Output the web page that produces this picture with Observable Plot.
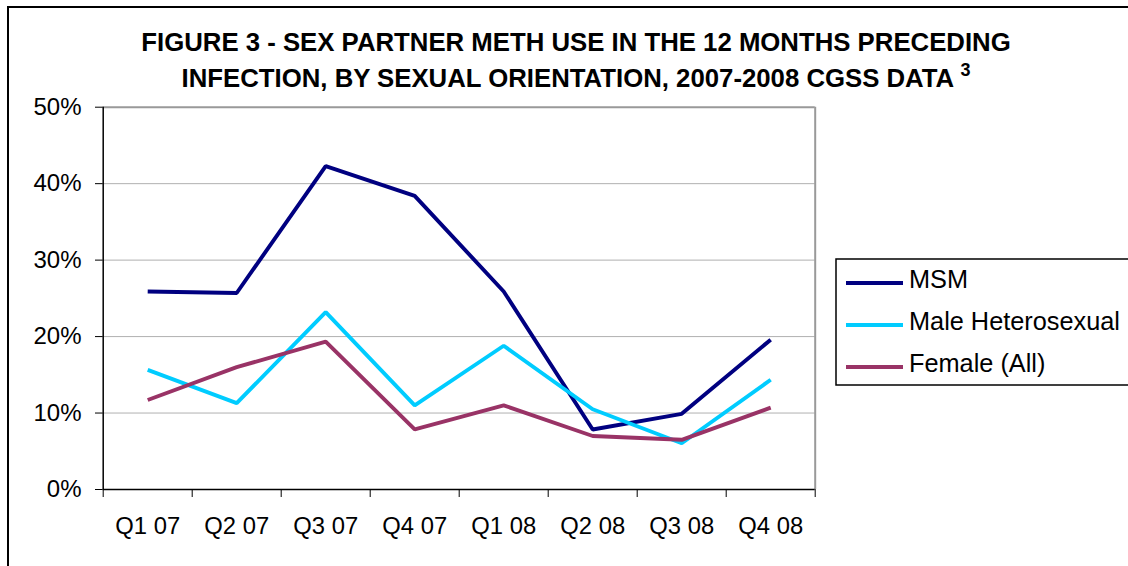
<!DOCTYPE html>
<html>
<head>
<meta charset="utf-8">
<script src="https://cdn.jsdelivr.net/npm/d3@7"></script>
<script src="https://cdn.jsdelivr.net/npm/@observablehq/plot@0.6"></script>
<style>
  html, body { margin: 0; padding: 0; background: #fff; }
  #wrap { position: relative; width: 1128px; height: 566px; overflow: hidden; background: #fff;
          font-family: "Liberation Sans", Arial, sans-serif; }
  #frame { position: absolute; left: 7px; top: 6px; width: 1300px; height: 800px; border: 2px solid #000; box-sizing: border-box; }
  #title { position: absolute; left: 0; top: 24px; width: 1152px; text-align: center; font-weight: bold;
           font-size: 25.75px; line-height: 36px; color: #000; white-space: nowrap; }
  #title sup { font-size: 18px; vertical-align: baseline; position: relative; top: -11px; }
  #chart { position: absolute; left: 0; top: 0; }
  #legend { position: absolute; left: 0; top: 0; }
</style>
</head>
<body>
<div id="wrap">
  <div id="frame"></div>
  <div id="chart"></div>
  <div id="title">FIGURE 3 - SEX PARTNER METH USE IN THE 12 MONTHS PRECEDING<br>INFECTION, BY SEXUAL ORIENTATION, 2007-2008 CGSS DATA <sup>3</sup></div>
  <svg id="legend" width="1128" height="566"></svg>
</div>
<script>
// ---- data ----
const quarters = ["Q1 07", "Q2 07", "Q3 07", "Q4 07", "Q1 08", "Q2 08", "Q3 08", "Q4 08"];
const seriesNames = ["MSM", "Male Heterosexual", "Female (All)"];
const seriesColors = ["#000080", "#00CCFF", "#993366"];
const msm = [25.9, 25.7, 42.3, 38.4, 25.9, 7.85, 9.9, 19.6];
const maleHetero = [15.65, 11.3, 23.2, 11.0, 18.8, 10.5, 6.05, 14.35];
const female = [11.7, 16.0, 19.35, 7.85, 11.0, 7.0, 6.5, 10.7];
const yTicks = [0, 0.1, 0.2, 0.3, 0.4, 0.5];

const seriesValues = [msm, maleHetero, female];
const rows = [];
seriesValues.forEach((vals, s) => {
  vals.forEach((v, i) => rows.push({series: seriesNames[s], i: i + 0.5, q: quarters[i], value: v / 100}));
});

const font = '"Liberation Sans", Arial, sans-serif';
const chart = Plot.plot({
  width: 1128,
  height: 566,
  marginLeft: 102.7,
  marginRight: 313.3,
  marginTop: 106.7,
  marginBottom: 77,
  style: {fontFamily: font, fontSize: "24px", color: "#000", background: "transparent"},
  x: {domain: [0, quarters.length]},
  y: {domain: [0, 0.5]},
  color: {domain: seriesNames, range: seriesColors},
  marks: [
    Plot.gridY(yTicks.filter(d => d > 0 && d < 0.5), {stroke: "#b0b0b0", strokeOpacity: 1, strokeWidth: 1}),
    Plot.ruleY([0.5], {stroke: "#999", strokeWidth: 2}),
    Plot.ruleX([quarters.length], {stroke: "#999", strokeWidth: 2}),
    Plot.ruleX([0], {stroke: "#000", strokeWidth: 1.5}),
    Plot.ruleY([0], {stroke: "#000", strokeWidth: 1.5}),
    Plot.axisY({ticks: yTicks, tickFormat: d3.format(".0%"), tickSize: 7.7, tickPadding: 14, fontSize: 24, label: null, stroke: "#000"}),
    Plot.axisX({ticks: d3.range(quarters.length + 1), tickFormat: () => "", tickSize: 8, label: null, stroke: "#000"}),
    Plot.axisX({ticks: quarters.map((q, i) => i + 0.5), tickFormat: d => quarters[Math.floor(d)], tickSize: 0, tickPadding: 28, fontSize: 23.8, label: null}),
    Plot.line(rows, {x: "i", y: "value", z: "series", stroke: "series", strokeWidth: 3.9, strokeLinejoin: "miter", strokeLinecap: "butt"})
  ]
});
document.getElementById("chart").appendChild(chart);

// ---- legend ----
const lg = d3.select("#legend");
lg.append("rect").attr("x", 836).attr("y", 259).attr("width", 400).attr("height", 126)
  .attr("fill", "#fff").attr("stroke", "#000").attr("stroke-width", 1.5);
seriesNames.forEach((name, k) => {
  const base = 288 + k * 42;
  lg.append("line").attr("x1", 846).attr("x2", 903).attr("y1", base - 5).attr("y2", base - 5)
    .attr("stroke", seriesColors[k]).attr("stroke-width", 3.9);
  lg.append("text").attr("x", 909).attr("y", base).text(name)
    .attr("font-family", font).attr("font-size", "25.3px").attr("fill", "#000");
});
</script>
</body>
</html>
